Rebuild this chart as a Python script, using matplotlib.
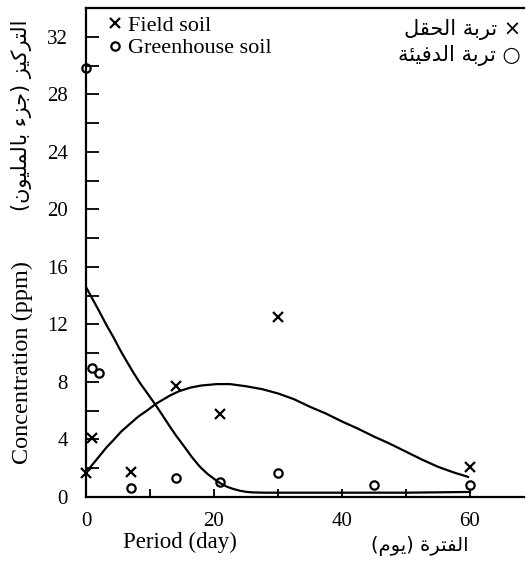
import matplotlib.pyplot as plt
from matplotlib.ticker import MultipleLocator

# measured points (day, ppm)
field_day = [0, 1, 7, 14, 21, 30, 60]
field_ppm = [1.7, 4.1, 1.75, 7.7, 5.75, 12.5, 2.1]
greenhouse_day = [0, 1, 2, 7, 14, 21, 30, 45, 60]
greenhouse_ppm = [29.8, 9.0, 8.6, 0.6, 1.3, 1.05, 1.7, 0.85, 0.85]

# fitted curves
field_curve_day = [0, 1, 2.2, 3.2, 4.3, 5.5, 6.9, 8.2, 9.5, 11, 13.1, 14.5, 16.25, 18, 20.4, 22.5,
                   25, 27.5, 30, 32.5, 35, 37.5, 40, 42.5, 45, 47.5, 50, 52.5, 55, 57.5, 59.7]
field_curve_ppm = [1.7, 2.25, 2.9, 3.45, 3.96, 4.55, 5.1, 5.6, 6.0, 6.5, 7.05, 7.35, 7.6, 7.75, 7.85, 7.85,
                   7.7, 7.5, 7.2, 6.8, 6.27, 5.8, 5.25, 4.75, 4.2, 3.7, 3.15, 2.6, 2.1, 1.7, 1.4]
greenhouse_curve_day = [0, 1.1, 2.2, 3.2, 4.3, 5.3, 6.4, 7.4, 8.4, 9.6, 10.8, 12, 13.1, 14.1, 15.2,
                        16.5, 17.8, 19, 20.2, 21, 22, 23, 24, 25, 26, 28, 30, 40, 50, 60]
greenhouse_curve_ppm = [14.6, 13.7, 12.8, 11.95, 11.1, 10.25, 9.4, 8.65, 7.95, 7.2, 6.45, 5.65, 4.9, 4.25, 3.6,
                        2.8, 2.1, 1.6, 1.2, 0.95, 0.72, 0.56, 0.44, 0.36, 0.32, 0.3, 0.3, 0.3, 0.3, 0.35]

x_ticks = [0, 20, 40, 60]
y_ticks = [0, 4, 8, 12, 16, 20, 24, 28, 32]

# matplotlib has no arabic shaping, so pick the presentation forms by hand
FORMS = {
    'ا': '\uFE8D\uFE8E', 'ب': '\uFE8F\uFE90\uFE91\uFE92', 'ت': '\uFE95\uFE96\uFE97\uFE98',
    'ة': '\uFE93\uFE94', 'ج': '\uFE9D\uFE9E\uFE9F\uFEA0', 'ح': '\uFEA1\uFEA2\uFEA3\uFEA4',
    'د': '\uFEA9\uFEAA', 'ر': '\uFEAD\uFEAE', 'ز': '\uFEAF\uFEB0',
    'ف': '\uFED1\uFED2\uFED3\uFED4', 'ق': '\uFED5\uFED6\uFED7\uFED8', 'ك': '\uFED9\uFEDA\uFEDB\uFEDC',
    'ل': '\uFEDD\uFEDE\uFEDF\uFEE0', 'م': '\uFEE1\uFEE2\uFEE3\uFEE4', 'ن': '\uFEE5\uFEE6\uFEE7\uFEE8',
    'و': '\uFEED\uFEEE', 'ي': '\uFEF1\uFEF2\uFEF3\uFEF4', 'ئ': '\uFE89\uFE8A\uFE8B\uFE8C',
    'ء': '\uFE80',
}


def ar(text):
    out = []
    for i, c in enumerate(text):
        f = FORMS.get(c)
        if f is None:
            out.append(c)
            continue
        prev = text[i - 1] if i > 0 else ''
        nxt = text[i + 1] if i + 1 < len(text) else ''
        join_prev = len(FORMS.get(prev, '')) == 4
        join_next = len(f) == 4 and len(FORMS.get(nxt, '')) >= 2
        if join_prev and join_next:
            out.append(f[3])
        elif join_prev:
            out.append(f[1])
        elif join_next:
            out.append(f[2])
        else:
            out.append(f[0])
    vis = ''.join(out)[::-1]
    return vis.translate(str.maketrans('()', ')('))


serif = 'Liberation Serif'
arab = 'DejaVu Sans'

fig = plt.figure(figsize=(5.27, 5.70), dpi=100)
ax = fig.add_axes([86 / 527, 1 - 497 / 570, (524 - 86) / 527, (497 - 8) / 570])

ax.plot(field_curve_day, field_curve_ppm, color='black', lw=1.6)
ax.plot(greenhouse_curve_day, greenhouse_curve_ppm, color='black', lw=1.6)
ax.plot(field_day, field_ppm, 'x', color='black', ms=7, mew=1.6, clip_on=False, label='Field soil')
ax.plot(greenhouse_day, greenhouse_ppm, 'o', mfc='none', mec='black', ms=6, mew=1.6,
        clip_on=False, label='Greenhouse soil')

ax.set_xlim(0, (524 - 86) / 6.4)
ax.set_ylim(0, 34)
ax.set_xticks(x_ticks)
ax.set_yticks(y_ticks)
ax.xaxis.set_minor_locator(MultipleLocator(10))
ax.yaxis.set_minor_locator(MultipleLocator(2))
ax.tick_params(which='both', direction='in', width=1.3, labelsize=15, labelfontfamily=serif)
ax.tick_params(axis='y', which='both', length=9, pad=13)
ax.tick_params(axis='x', which='both', length=6, pad=11)
ax.spines['right'].set_visible(False)
for s in ['left', 'bottom', 'top']:
    ax.spines[s].set_linewidth(1.6)

ax.legend(loc='upper left', bbox_to_anchor=(108 / 527, 1 - 15 / 570), bbox_transform=fig.transFigure,
          frameon=False, prop={'family': serif, 'size': 16}, handlelength=0.6, handletextpad=0.3,
          labelspacing=0.1, borderpad=0, borderaxespad=0)

# arabic legend on the right
fig.text(521 / 527, 1 - 30 / 570, ar('× تربة الحقل'), family=arab, fontsize=15, ha='right', va='center')
fig.text(521 / 527, 1 - 56 / 570, ar('○ تربة الدفيئة'), family=arab, fontsize=15, ha='right', va='center')

# axis titles in both languages
fig.text(180 / 527, 1 - 542 / 570, 'Period (day)', family=serif, fontsize=16.5, ha='center', va='center')
fig.text(420 / 527, 1 - 546 / 570, ar('الفترة (يوم)'), family=arab, fontsize=14, ha='center', va='center')
fig.text(22 / 527, 1 - 362 / 570, 'Concentration (ppm)', family=serif, fontsize=17.5,
         rotation=90, ha='center', va='center')
fig.text(22 / 527, 1 - 115 / 570, ar('التركيز (جزء بالمليون)'), family=arab, fontsize=15,
         rotation=90, ha='center', va='center')

fig.savefig('out.png', dpi=100)
